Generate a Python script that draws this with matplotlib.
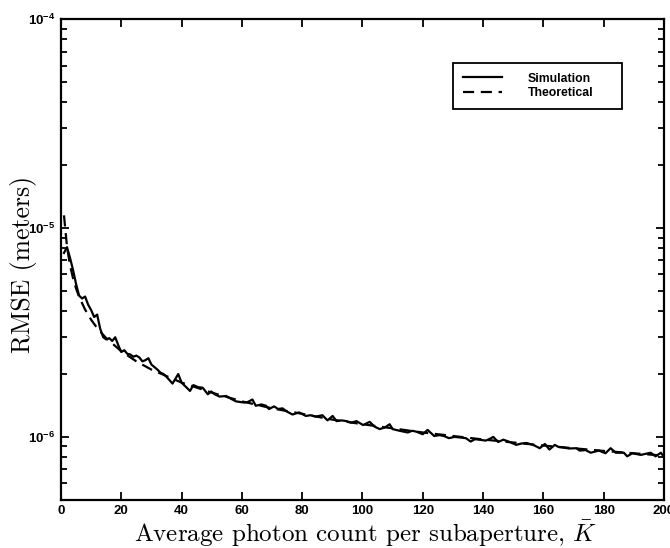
import math
import matplotlib.pyplot as plt
from matplotlib.ticker import LogLocator, FixedLocator, NullFormatter, FuncFormatter

plt.rcParams['mathtext.fontset'] = 'custom'
plt.rcParams['mathtext.rm'] = 'Liberation Sans:bold'
plt.rcParams['mathtext.bf'] = 'Liberation Sans:bold'

# simulated RMSE vs average photon count (x1e-6 m)
sim_k = [1, 2, 3, 4, 5, 6, 7, 8, 9, 10, 11, 12, 13, 14, 15, 16, 17, 18, 19, 20,
         21, 22, 23, 24, 25, 26, 27, 28, 29, 30, 31, 32, 33, 34, 35, 37, 38.9, 40,
         42.8, 43.9, 45.5, 47, 48.7, 49.8, 51, 52.6, 54.8, 56.5, 58, 60.8, 62, 63.5,
         64.6, 66.5, 68, 69, 70.7, 72, 73.5, 74.6, 76.8, 79, 81.2, 82.8, 84.5, 86.7,
         88.4, 90.1, 91.4, 93, 94.7, 96.3, 98, 100.2, 102.4, 104, 105.7, 107.5, 109,
         110, 112.3, 115, 116.5, 117.8, 120, 121.6, 123.8, 125.5, 127, 128.7, 130.5,
         132, 134.3, 135.9, 137.3, 138.7, 140.9, 142.3, 143.4, 145, 146.7, 148.9,
         151, 152.8, 154.4, 156.6, 158.8, 160.5, 162, 163.8, 165, 166.5, 168.5, 171,
         172, 174, 175.7, 178.4, 180.6, 182.3, 184, 186.7, 187.8, 189.5, 192.3, 194,
         195.6, 197.2, 199, 200]
sim_rmse = [7.6, 8.1, 7.2, 6.3, 5.4, 4.75, 4.6, 4.7, 4.3, 4.05, 3.75, 3.85, 3.3, 3.0,
            2.93, 2.97, 2.88, 3.0, 2.75, 2.55, 2.6, 2.5, 2.48, 2.42, 2.45, 2.4, 2.3,
            2.33, 2.38, 2.22, 2.16, 2.1, 2.03, 2.0, 1.94, 1.80, 2.0, 1.82, 1.66, 1.77,
            1.73, 1.72, 1.60, 1.65, 1.60, 1.56, 1.57, 1.52, 1.48, 1.46, 1.47, 1.51,
            1.41, 1.43, 1.41, 1.36, 1.40, 1.36, 1.37, 1.33, 1.28, 1.31, 1.26, 1.27,
            1.25, 1.27, 1.20, 1.26, 1.19, 1.20, 1.19, 1.17, 1.19, 1.14, 1.18, 1.12,
            1.09, 1.11, 1.15, 1.09, 1.07, 1.05, 1.07, 1.06, 1.03, 1.08, 1.01, 1.02,
            1.01, 0.986, 1.0, 0.995, 0.986, 0.95, 0.975, 0.97, 0.96, 0.98, 1.0, 0.945,
            0.97, 0.945, 0.916, 0.93, 0.935, 0.916, 0.883, 0.925, 0.87, 0.916, 0.895,
            0.89, 0.88, 0.883, 0.86, 0.865, 0.84, 0.86, 0.835, 0.883, 0.84, 0.84,
            0.807, 0.835, 0.82, 0.83, 0.84, 0.807, 0.84, 0.80]

# theoretical curve (x1e-6 m)
theo_k = [1, 2, 3, 4, 5, 6, 8, 10, 12, 15, 20, 25, 30, 40, 50, 60, 70, 80, 90, 100,
          120, 140, 160, 180, 200]
theo_rmse = [11.5, 8.13, 6.64, 5.75, 5.14, 4.69, 4.07, 3.64, 3.32, 2.97, 2.57, 2.30,
             2.10, 1.82, 1.63, 1.48, 1.37, 1.29, 1.21, 1.15, 1.05, 0.972, 0.909,
             0.857, 0.813]

x_ticks = [0, 20, 40, 60, 80, 100, 120, 140, 160, 180, 200]

fig = plt.figure(figsize=(6.7, 5.48), dpi=100)
ax = fig.add_axes([0.091, 0.088, 0.900, 0.877])

ax.plot(sim_k, [v * 1e-6 for v in sim_rmse], color='black', lw=1.6, label='Simulation')
ax.plot(theo_k, [v * 1e-6 for v in theo_rmse], color='black', lw=1.6, ls=(0, (5, 3)),
        label='Theoretical')

ax.set_yscale('log')
ax.set_xlim(0, 200)
ax.set_ylim(5e-7, 1e-4)
ax.xaxis.set_major_locator(FixedLocator(x_ticks))
ax.yaxis.set_major_locator(LogLocator(base=10))
ax.yaxis.set_minor_locator(LogLocator(base=10, subs=range(2, 10)))
ax.yaxis.set_minor_formatter(NullFormatter())
ax.yaxis.set_major_formatter(FuncFormatter(lambda v, p: r'$\mathbf{10^{%d}}$' % round(math.log10(v))))

ax.tick_params(which='both', direction='in', top=True, right=True, width=1.3)
ax.tick_params(which='major', length=6, labelsize=9.5, pad=4)
ax.tick_params(which='minor', length=4)
for lab in ax.get_xticklabels():
    lab.set_fontweight('bold')
    lab.set_family('Liberation Sans')
for s in ax.spines.values():
    s.set_linewidth(1.6)

ax.set_xlabel(r'Average photon count per subaperture, $\bar{K}$', fontsize=18,
              family='cmr10', math_fontfamily='cm')
ax.set_ylabel('RMSE (meters)', fontsize=18.5, family='cmr10')
ax.xaxis.label.set_va('baseline')
ax.xaxis.set_label_coords(0.506, -0.086)
ax.yaxis.set_label_coords(-0.04, 0.49)

leg = ax.legend(loc='upper left', bbox_to_anchor=(0.650, 0.807, 0.280, 0.102),
                mode='expand', borderaxespad=0, fancybox=False,
                edgecolor='black', framealpha=1, handlelength=3.2, handletextpad=2.1,
                borderpad=0.8, labelspacing=0.2, prop={'family': 'Liberation Sans',
                                                       'weight': 'bold', 'size': 8.8})
leg.get_frame().set_linewidth(1.3)

fig.savefig('out.png', dpi=100)
